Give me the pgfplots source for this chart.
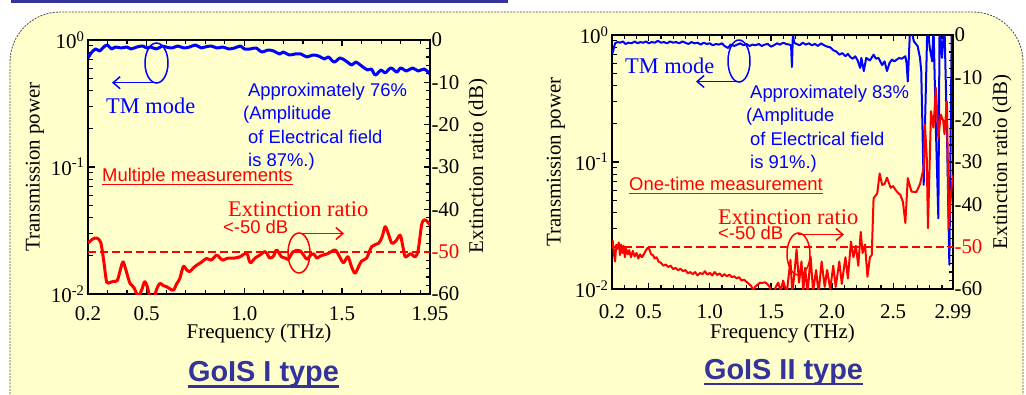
\documentclass[border=0pt]{standalone}
\usepackage{pgfplots}
\pgfplotsset{compat=1.18}
\usepackage{pgfplotstable}
\usepackage{fontspec}
\setmainfont{Liberation Serif}
\newfontfamily\arial{Liberation Sans}
\usetikzlibrary{arrows.meta}
\definecolor{bgyellow}{RGB}{255,255,204}
\definecolor{titleblue}{RGB}{51,51,153}
\definecolor{pblue}{RGB}{0,0,255}
\definecolor{pred}{RGB}{255,0,0}

% Panel 1: TM-mode transmission (linear power)
\pgfplotstableread{
f T
0.20 0.722
0.22 0.804
0.24 0.850
0.26 0.819
0.28 0.881
0.30 0.913
0.32 0.850
0.34 0.881
0.37 0.865
0.40 0.881
0.42 0.850
0.45 0.881
0.48 0.897
0.50 0.865
0.52 0.881
0.55 0.850
0.58 0.897
0.60 0.881
0.63 0.865
0.66 0.897
0.69 0.865
0.72 0.881
0.75 0.913
0.78 0.865
0.80 0.881
0.83 0.897
0.86 0.865
0.89 0.881
0.92 0.850
0.95 0.865
0.98 0.897
1.00 0.850
1.03 0.850
1.06 0.865
1.09 0.804
1.12 0.834
1.15 0.819
1.18 0.776
1.20 0.804
1.23 0.762
1.26 0.776
1.29 0.776
1.32 0.735
1.35 0.762
1.38 0.748
1.41 0.709
1.43 0.735
1.46 0.671
1.49 0.722
1.52 0.683
1.55 0.636
1.57 0.671
1.60 0.624
1.63 0.581
1.65 0.591
1.67 0.530
1.70 0.581
1.72 0.550
1.75 0.602
1.78 0.560
1.80 0.602
1.83 0.570
1.86 0.602
1.89 0.570
1.92 0.591
1.95 0.540
}\blueA

% Panel 1: extinction ratio (dB)
\pgfplotstableread{
f dB
0.200 -48.0
0.225 -47.0
0.245 -46.8
0.265 -47.8
0.280 -52.0
0.295 -57.1
0.310 -57.3
0.330 -57.0
0.350 -56.8
0.370 -53.5
0.380 -52.4
0.395 -54.5
0.415 -57.5
0.435 -58.5
0.457 -60.5
0.475 -59.0
0.490 -57.1
0.505 -58.5
0.520 -61.5
0.535 -62.0
0.550 -59.0
0.568 -57.5
0.585 -58.0
0.603 -58.3
0.620 -58.8
0.637 -59.1
0.655 -57.5
0.670 -56.3
0.688 -53.5
0.705 -54.3
0.720 -54.7
0.740 -53.8
0.756 -53.2
0.780 -52.5
0.807 -51.6
0.830 -52.0
0.858 -50.8
0.875 -51.5
0.890 -52.0
0.910 -51.6
0.925 -51.5
0.950 -51.5
0.978 -51.2
1.012 -50.4
1.030 -52.6
1.055 -51.5
1.080 -50.8
1.107 -50.0
1.130 -51.5
1.150 -51.0
1.165 -49.6
1.190 -51.2
1.210 -51.5
1.225 -51.8
1.250 -50.0
1.285 -49.8
1.320 -51.8
1.335 -51.0
1.355 -50.5
1.370 -51.5
1.390 -51.0
1.430 -50.4
1.464 -49.6
1.485 -51.0
1.507 -52.6
1.530 -51.2
1.548 -53.5
1.566 -55.1
1.585 -53.5
1.600 -52.2
1.626 -51.5
1.652 -48.8
1.687 -48.0
1.705 -46.5
1.720 -44.1
1.735 -45.5
1.754 -48.0
1.775 -47.5
1.797 -46.1
1.810 -48.5
1.823 -51.2
1.850 -50.5
1.875 -51.2
1.890 -49.5
1.907 -43.7
1.920 -42.5
1.935 -42.8
1.950 -43.7
}\redA

% Panel 2: TM-mode transmission
\pgfplotstableread{
f T
0.205 0.72
0.225 0.86
0.245 0.88
0.265 0.87
0.29 0.89
0.31 0.85
0.335 0.87
0.36 0.86
0.385 0.89
0.41 0.86
0.43 0.88
0.455 0.87
0.48 0.89
0.50 0.86
0.525 0.88
0.55 0.87
0.575 0.90
0.60 0.87
0.625 0.88
0.65 0.86
0.675 0.89
0.70 0.87
0.725 0.88
0.75 0.86
0.775 0.89
0.80 0.87
0.825 0.85
0.85 0.88
0.875 0.86
0.90 0.87
0.925 0.84
0.95 0.87
0.975 0.85
1.00 0.86
1.025 0.83
1.05 0.85
1.075 0.84
1.10 0.86
1.12 0.82
1.15 0.79
1.17 0.84
1.20 0.82
1.225 0.84
1.25 0.86
1.275 0.83
1.30 0.85
1.325 0.82
1.35 0.84
1.375 0.83
1.40 0.85
1.425 0.82
1.45 0.84
1.475 0.85
1.50 0.81
1.525 0.83
1.55 0.86
1.575 0.84
1.60 0.87
1.625 0.85
1.65 0.84
1.665 0.83
1.672 0.56
1.68 1.02
1.69 0.87
1.71 0.85
1.735 0.83
1.76 0.87
1.785 0.84
1.81 0.86
1.835 0.83
1.86 0.85
1.885 0.82
1.91 0.86
1.935 0.83
1.96 0.81
1.985 0.80
2.01 0.76
2.035 0.74
2.06 0.70
2.085 0.72
2.11 0.68
2.13 0.71
2.15 0.67
2.17 0.65
2.19 0.68
2.21 0.63
2.23 0.55
2.24 0.66
2.26 0.52
2.28 0.66
2.31 0.63
2.34 0.70
2.36 0.65
2.38 0.66
2.41 0.58
2.43 0.62
2.45 0.52
2.47 0.60
2.49 0.64
2.51 0.62
2.53 0.64
2.55 0.66
2.57 0.65
2.60 0.68
2.61 0.60
2.62 0.43
2.64 1.20
2.67 0.89
2.70 0.82
2.72 0.66
2.73 0.52
2.75 0.066
2.76 0.18
2.78 1.20
2.80 0.79
2.82 0.62
2.83 1.20
2.85 0.18
2.87 0.036
2.88 1.20
2.90 0.66
2.92 1.20
2.94 0.18
2.96 0.0155
2.98 1.20
2.99 1.20
}\blueB

% Panel 2: extinction ratio (dB)
\pgfplotstableread{
f dB
0.205 -48.4
0.215 -51.5
0.225 -53.5
0.235 -49.5
0.245 -50.5
0.255 -49.0
0.265 -52.0
0.275 -49.5
0.285 -51.5
0.295 -49.8
0.305 -52.5
0.315 -50.5
0.330 -51.8
0.340 -50.8
0.355 -52.5
0.370 -51.0
0.385 -52.3
0.400 -51.5
0.415 -52.8
0.430 -51.8
0.445 -52.5
0.460 -51.8
0.475 -51.0
0.490 -50.3
0.505 -50.6
0.520 -51.8
0.535 -52.0
0.550 -52.8
0.565 -52.5
0.580 -53.5
0.600 -53.8
0.620 -54.5
0.640 -54.2
0.660 -54.8
0.680 -54.5
0.700 -55.3
0.720 -55.0
0.740 -55.6
0.760 -55.2
0.780 -55.8
0.800 -55.5
0.820 -56.3
0.840 -56.0
0.860 -56.5
0.880 -56.0
0.900 -56.8
0.920 -56.2
0.940 -56.5
0.960 -55.8
0.980 -56.6
1.000 -56.2
1.020 -56.8
1.040 -56.0
1.060 -56.7
1.080 -56.3
1.100 -57.0
1.120 -56.5
1.140 -57.0
1.160 -56.6
1.180 -57.2
1.200 -57.0
1.220 -57.5
1.240 -57.2
1.260 -58.0
1.280 -57.8
1.300 -58.3
1.320 -58.8
1.340 -59.3
1.355 -60.5
1.370 -59.5
1.390 -59.0
1.410 -58.5
1.430 -58.6
1.450 -58.4
1.470 -58.8
1.490 -59.5
1.500 -60.5
1.520 -61.0
1.540 -59.5
1.560 -58.5
1.580 -60.5
1.600 -58.0
1.615 -59.5
1.630 -61.0
1.645 -57.0
1.660 -53.1
1.675 -61.0
1.690 -57.0
1.710 -50.6
1.730 -58.5
1.750 -53.5
1.765 -60.5
1.780 -55.0
1.800 -61.0
1.825 -52.4
1.845 -60.5
1.870 -55.5
1.890 -61.0
1.915 -53.5
1.940 -59.5
1.960 -55.5
1.985 -60.0
2.010 -54.5
2.030 -59.5
2.060 -53.5
2.080 -58.8
2.110 -52.5
2.130 -57.5
2.155 -48.8
2.175 -52.5
2.195 -49.8
2.215 -54.5
2.235 -46.5
2.250 -51.5
2.270 -49.5
2.290 -57.1
2.310 -52.5
2.325 -52.0
2.340 -38.6
2.370 -37.4
2.390 -32.7
2.410 -35.4
2.430 -35.2
2.450 -33.7
2.480 -36.1
2.500 -35.7
2.530 -37.0
2.560 -37.8
2.580 -39.4
2.600 -44.4
2.620 -33.8
2.650 -37.0
2.690 -37.1
2.720 -35.2
2.750 -31.4
2.760 -21.2
2.775 -28.8
2.785 -45.6
2.810 -18.0
2.830 -21.9
2.850 -12.5
2.870 -24.3
2.890 -18.8
2.910 -20.3
2.920 -23.4
2.940 -15.7
2.955 -45.6
2.975 -36.9
2.990 -33.0
}\redB

\pgfplotsset{
  base/.style={
    scale only axis,
    tick align=inside,
    axis line style={line width=1.6bp},
    every tick/.style={black, line width=1.2bp},
    major tick length=6.5bp, minor tick length=4.5bp,
    tick label style={font=\fontsize{21}{24}\selectfont},
    /pgf/number format/assume math mode=true,
  },
}

\newcommand\serifA{\fontsize{22.5}{26}\selectfont}
\newcommand\serifL{\fontsize{21}{24}\selectfont}
\newcommand\sansA{\arial\fontsize{18.5}{22}\selectfont}

\begin{document}
\begin{tikzpicture}[x=1bp,y=1bp]
\useasboundingbox (0,0) rectangle (1026,394);
% background panel
\fill[white] (0,0) rectangle (1026,394);
\filldraw[fill=bgyellow, draw=black!70, line width=0.8bp, dash pattern=on 2bp off 1.2bp, rounded corners=50bp]
  (10,-80) -- (10,382) -- (1023,382) -- (1023,-80);
\draw[titleblue, line width=3bp] (11,392) -- (508,392);

% ---------------- Panel 1 ----------------
\begin{axis}[base, at={(88bp,100bp)}, anchor=south west, width=342bp, height=254bp,
  xmin=0.2, xmax=1.95, ymode=log, ymin=0.01, ymax=1,
  ytick pos=left,
  xtick={0.2,0.5,1.0,1.5,1.95}, xticklabels={0.2,0.5,1.0,1.5,1.95},
  minor xtick={0.3,0.4,0.6,0.7,0.8,0.9,1.1,1.2,1.3,1.4,1.6,1.7,1.8,1.9},
  ytick={0.01,0.1,1},
  yticklabels={10\textsuperscript{-2},10\textsuperscript{-1},10\textsuperscript{0}},
  minor ytick={0.02,0.03,0.04,0.05,0.06,0.07,0.08,0.09,0.2,0.3,0.4,0.5,0.6,0.7,0.8,0.9},
  xticklabel style={anchor=base, yshift=-26bp},
]
\addplot[pblue, line width=3bp, smooth, line join=round] table[x=f, y=T] {\blueA};
\end{axis}
\begin{axis}[base, at={(88bp,100bp)}, anchor=south west, width=342bp, height=254bp,
  xmin=0.2, xmax=1.95, ymin=-60, ymax=0,
  axis y line*=right, hide x axis,
  ytick={-60,-50,-40,-30,-20,-10,0},
  yticklabels={-60,\textcolor{pred}{-50},-40,-30,-20,-10,0},
  minor y tick num=4,
  yticklabel style={xshift=-2bp},
]
\addplot[pred, line width=1.8bp, dash pattern=on 8bp off 4bp] coordinates {(0.2,-50) (1.95,-50)};
\addplot[pred, line width=3bp, smooth, line join=round] table[x=f, y=dB] {\redA};
\end{axis}

% ---------------- Panel 2 ----------------
\begin{axis}[base, at={(612bp,105bp)}, anchor=south west, width=341bp, height=254bp,
  xmin=0.2, xmax=2.99, ymode=log, ymin=0.01, ymax=1,
  ytick pos=left,
  xtick={0.2,0.5,1.0,1.5,2.0,2.5,2.99}, xticklabels={0.2,0.5,1.0,1.5,2.0,2.5,2.99},
  minor xtick={0.3,0.4,0.6,0.7,0.8,0.9,1.1,1.2,1.3,1.4,1.6,1.7,1.8,1.9,2.1,2.2,2.3,2.4,2.6,2.7,2.8,2.9},
  ytick={0.01,0.1,1},
  yticklabels={10\textsuperscript{-2},10\textsuperscript{-1},10\textsuperscript{0}},
  minor ytick={0.02,0.03,0.04,0.05,0.06,0.07,0.08,0.09,0.2,0.3,0.4,0.5,0.6,0.7,0.8,0.9},
  xticklabel style={anchor=base, yshift=-29bp},
]
\addplot[pblue, line width=2bp, line join=round] table[x=f, y=T] {\blueB};
\end{axis}
\begin{axis}[base, at={(612bp,105bp)}, anchor=south west, width=341bp, height=254bp,
  xmin=0.2, xmax=2.99, ymin=-60, ymax=0,
  axis y line*=right, hide x axis,
  ytick={-60,-50,-40,-30,-20,-10,0},
  yticklabels={-60,\textcolor{pred}{-50},-40,-30,-20,-10,0},
  minor y tick num=4,
  yticklabel style={xshift=-2bp},
]
\addplot[pred, line width=1.8bp, dash pattern=on 8bp off 4bp] coordinates {(0.2,-50) (2.99,-50)};
\addplot[pred, line width=2bp, line join=round] table[x=f, y=dB] {\redB};
\end{axis}

% ---------------- Axis titles ----------------
\node[rotate=90, inner sep=0] at (35,227) {\serifL Transmission power};
\node[rotate=90, inner sep=0] at (478,228) {\serifL Extinction ratio (dB)};
\node[anchor=base, inner sep=0] at (259,56) {\serifL Frequency (THz)};
\node[rotate=90, inner sep=0] at (556,232) {\serifL Transmission power};
\node[rotate=90, inner sep=0] at (1002,232) {\serifL Extinction ratio (dB)};
\node[anchor=base, inner sep=0] at (782.5,56) {\serifL Frequency (THz)};

% ---------------- Panel 1 annotations ----------------
\draw[pblue, line width=1.5bp] (156.5,331) ellipse (11.5 and 20);
\draw[pblue, line width=1.5bp, -{Straight Barb[length=7bp,width=12bp]}] (157,311.3) -- (112,311.3);
\node[anchor=base west, inner sep=0, text=pblue] at (106,280.5) {\serifA TM mode};
\node[anchor=base west, inner sep=0, text=pblue] at (248,298) {\sansA Approximately 76\%};
\node[anchor=base west, inner sep=0, text=pblue] at (243,274.5) {\sansA (Amplitude};
\node[anchor=base west, inner sep=0, text=pblue] at (248,251) {\sansA of Electrical field};
\node[anchor=base west, inner sep=0, text=pblue] at (248,228) {\sansA is 87\%.)};
\node[anchor=base west, inner sep=0, text=pred] (m1) at (102,213) {\sansA Multiple measurements};
\draw[pred, line width=1.2bp] ([yshift=-3.5bp]m1.base west) -- ([yshift=-3.5bp]m1.base east);
\node[anchor=base west, inner sep=0, text=pred] at (228,178) {\serifA Extinction ratio};
\node[anchor=base west, inner sep=0, text=pred] at (223,161) {\sansA <-50 dB};
\draw[pred, line width=1.5bp] (299,141) ellipse (11 and 20);
\draw[pred, line width=1.5bp, -{Straight Barb[length=7bp,width=12bp]}] (298,160.5) -- (344,160.5);

% ---------------- Panel 2 annotations ----------------
\draw[pblue, line width=1.5bp] (739,333) ellipse (11 and 21);
\draw[pblue, line width=1.5bp, -{Straight Barb[length=7bp,width=12bp]}] (740,312.5) -- (696,312.5);
\node[anchor=base west, inner sep=0, text=pblue] at (625,321) {\serifA TM mode};
\node[anchor=base west, inner sep=0, text=pblue] at (750,296) {\sansA Approximately 83\%};
\node[anchor=base west, inner sep=0, text=pblue] at (746,272.5) {\sansA (Amplitude};
\node[anchor=base west, inner sep=0, text=pblue] at (750,249) {\sansA of Electrical field};
\node[anchor=base west, inner sep=0, text=pblue] at (750,226) {\sansA is 91\%.)};
\node[anchor=base west, inner sep=0, text=pred] (m2) at (629,204) {\sansA One-time measurement};
\draw[pred, line width=1.2bp] ([yshift=-3.5bp]m2.base west) -- ([yshift=-3.5bp]m2.base east);
\node[anchor=base west, inner sep=0, text=pred] at (718,170) {\serifA Extinction ratio};
\node[anchor=base west, inner sep=0, text=pred] at (718,155) {\sansA <-50 dB};
\draw[pred, line width=1.5bp] (798.5,140) ellipse (11.5 and 21);
\draw[pred, line width=1.5bp, -{Straight Barb[length=7bp,width=12bp]}] (798,159.5) -- (844,159.5);

% ---------------- Panel titles ----------------
\node[anchor=base, inner sep=0, text=titleblue] (t1) at (263.5,13) {\arial\bfseries\fontsize{29}{32}\selectfont GoIS I type};
\draw[titleblue, line width=2.5bp] ([yshift=-5.5bp]t1.base west) -- ([yshift=-5.5bp]t1.base east);
\node[anchor=base, inner sep=0, text=titleblue] (t2) at (783.5,15) {\arial\bfseries\fontsize{29}{32}\selectfont GoIS II type};
\draw[titleblue, line width=2.5bp] ([yshift=-5bp]t2.base west) -- ([yshift=-5bp]t2.base east);
\end{tikzpicture}
\end{document}
